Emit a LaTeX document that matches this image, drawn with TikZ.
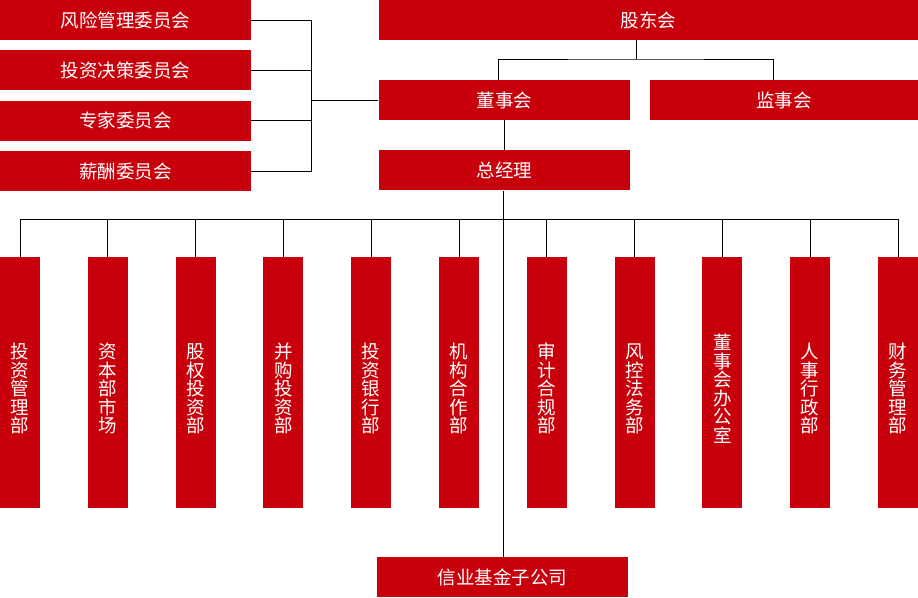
\documentclass[tikz,border=0pt]{standalone}
\usepackage{fontspec}
\usepackage{xcolor}
\usepackage{tikz}
\usetikzlibrary{positioning}
\newfontfamily\cjk{Noto Sans CJK SC}
\definecolor{xinred}{RGB}{200,0,11}

\begin{document}
\begin{tikzpicture}[
    x=1pt, y=-1pt,
    node distance=10pt and 10pt,
    box/.style={rectangle, fill=xinred, text=white, inner sep=0pt, minimum height=40pt, align=center, font=\cjk\fontsize{18.5}{18.5}\selectfont},
    committee/.style={box, minimum width=250.5pt},
    head/.style={box, minimum width=251.5pt},
    dept/.style={box, minimum width=40pt, minimum height=251pt, text width=40pt, execute at begin node={\rule{0pt}{28pt}}},
    link/.style={draw=black, line width=0.8pt}
]
\useasboundingbox (0,0) rectangle (918,597);
% Nodes - committees
\node[committee] (risk) at (125.25,20) {风险管理委员会};
\node[committee, below=of risk] (invest) {投资决策委员会};
\node[committee, below=of invest] (expert) {专家委员会};
\node[committee, below=of expert] (salary) {薪酬委员会};
% Nodes - top
\node[box, minimum width=539.5pt] (gdh) at (648.25,20) {股东会};
\node[head] (dsh) at (504.25,100) {董事会};
\node[box, minimum width=268pt] (jsh) at (784,100) {监事会};
\node[head, below=30pt of dsh] (zjl) {总经理};
\node[head] (fund) at (502.5,577) {信业基金子公司};
% Nodes - departments
\foreach \txt [count=\i] in {{投\\资\\管\\理\\部}, {资\\本\\部\\市\\场}, {股\\权\\投\\资\\部}, {并\\购\\投\\资\\部}, {投\\资\\银\\行\\部}, {机\\构\\合\\作\\部}, {审\\计\\合\\规\\部}, {风\\控\\法\\务\\部}, {董\\事\\会\\办\\公\\室}, {人\\事\\行\\政\\部}, {财\\务\\管\\理\\部}}
  \node[dept] (d\i) at ({20+87.8*(\i-1)},382.5) {\txt};
% Junctions
\coordinate (cj) at (311,100);
\coordinate (sh) at (636,59);
\coordinate (bus) at (503.5,219);
% Connectors - committees
\foreach \c in {risk, invest, expert, salary}
  \draw[link] (\c.east) -| (cj);
\draw[link] (cj) -- (dsh.west);
% Connectors - top
\draw[link] (gdh.south -| sh) -- (sh);
\draw[link] ([xshift=-6pt]dsh.north) |- (sh) -| ([xshift=-11pt]jsh.north);
\draw[link] (dsh) -- (zjl);
\draw[link] (zjl.south -| bus) -- (fund.north -| bus);
% Connectors - departments
\foreach \i in {1,...,11}
  \draw[link] (d\i.north) |- (bus);
\end{tikzpicture}
\end{document}
